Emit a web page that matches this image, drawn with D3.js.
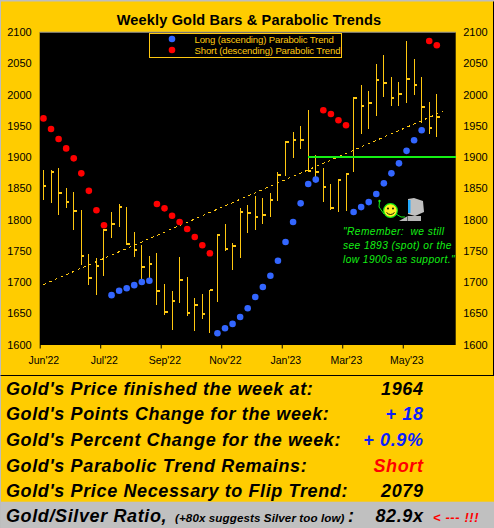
<!DOCTYPE html>
<html><head><meta charset="utf-8">
<script src="https://cdn.jsdelivr.net/npm/d3@7"></script>
<style>html,body{margin:0;padding:0;background:#ffcc00;overflow:hidden}svg{display:block}text{font-family:"Liberation Sans",Arial,sans-serif;white-space:pre}</style>
</head><body><div id="c"></div>
<script>
const highs=[1879,1879,1882,1850,1844,1815,1745,1738,1785,1812,1825,1820,1780,1759,1742,1746,1697,1686,1740,1708,1674,1681,1687,1777,1793,1762,1818,1823,1838,1834,1842,1876,1926,1940,1950,1975,1903,1882,1857,1865,1874,1996,2015,2006,2049,2063,2028,2020,2086,2057,2028,1988,2001];
const lows=[1831,1827,1808,1819,1783,1727,1695,1679,1710,1770,1788,1759,1740,1700,1702,1663,1647,1623,1666,1646,1622,1641,1618,1668,1750,1719,1738,1778,1783,1793,1804,1830,1870,1898,1913,1876,1863,1828,1815,1812,1814,1876,1937,1945,1966,1996,1982,1982,1986,1999,1954,1937,1932];
const closes=[1854,1876,1843,1828,1814,1742,1707,1726,1783,1793,1820,1761,1751,1724,1729,1686,1652,1670,1704,1651,1664,1649,1687,1776,1753,1757,1812,1810,1804,1808,1831,1871,1925,1927,1927,1878,1876,1852,1818,1864,1873,1995,1982,1986,2023,2019,1994,2001,2025,2015,1980,1946,1964];
const longIdx=[9,10,11,12,13,14,23,24,25,26,27,28,29,30,31,32,33,34,35,36,41,42,43,44,45,46,47,48,49,50];
const longVals=[1679,1686,1690,1695,1700,1702,1618,1626,1633,1644,1658,1676,1692,1710,1734,1764,1796,1826,1857,1864,1812,1820,1828,1841,1858,1874,1890,1910,1927,1943];
const shortIdx=[0,1,2,3,4,5,6,7,8,15,16,17,18,19,20,21,22,37,38,39,40,51,52];
const shortVals=[1962,1945,1929,1914,1898,1874,1846,1815,1791,1825,1818,1806,1796,1785,1772,1759,1746,1975,1969,1959,1951,2086,2079];
const trendIdx=[0,52.8];
const trendVals=[1696,1973];
const supportIdx=[35,54.5];
const supportVals=[1900,1900];
const yTicks=[1600,1650,1700,1750,1800,1850,1900,1950,2000,2050,2100];
const xTickIdx=[0,8,16,24,32,40,48];
const xTickLabels=["Jun'22","Jul'22","Sep'22","Nov'22","Jan'23","Mar'23","May'23"];
const legendLabels=["Long (ascending) Parabolic Trend","Short (descending) Parabolic Trend"];
const noteLines=['"Remember:  we still','see 1893 (spot) or the','low 1900s as support."'];
const tableLabels=["Gold's Price finished the week at:","Gold's Points Change for the week:","Gold's Percent Change for the week:","Gold's Parabolic Trend Remains:","Gold's Price Necessary to Flip Trend:"];
const tableValues=["1964","+ 18","+ 0.9%","Short","2079"];
const tableColors=["#000","#0a1eff","#0a1eff","#ff0000","#000"];

const gold="#ffcc00", barCol="#ffc810", blue="#3366ff", red="#ff0000", green="#14f014";
const svg=d3.select("#c").append("svg").attr("width",494).attr("height",528);
svg.append("rect").attr("width",494).attr("height",528).attr("fill",gold);
svg.append("rect").attr("x",0).attr("y",0).attr("width",494).attr("height",1.5).attr("fill","#bdbdbd");
svg.append("rect").attr("x",0).attr("y",0).attr("width",1).attr("height",528).attr("fill","#bdbdbd");
svg.append("text").attr("x",249).attr("y",25).attr("text-anchor","middle").attr("font-size",14.5).attr("font-weight","bold").attr("letter-spacing",0.18).attr("fill","#000").text("Weekly Gold Bars & Parabolic Trends");

const pL=39.7,pR=455.7,pT=32.2,pB=345;
const x=d3.scaleLinear().domain([0,55]).range([pL,pR]);
const y=d3.scaleLinear().domain([1600,2100]).range([pB-0.5,pT]);
const cx=i=>x(i+0.5);
svg.append("rect").attr("x",pL).attr("y",pT).attr("width",pR-pL).attr("height",pB-pT).attr("fill","#000");
svg.append("line").attr("x1",pL).attr("x2",pR).attr("y1",pT).attr("y2",pT).attr("stroke","#9a9a9a").attr("stroke-width",1);

// axes
const axL=svg.append("g").attr("transform",`translate(${pL-8},0)`).call(d3.axisLeft(y).tickValues(yTicks).tickSize(0).tickPadding(0).tickFormat(d3.format("d")));
const axR=svg.append("g").attr("transform",`translate(${pR+7.5},0)`).call(d3.axisRight(y).tickValues(yTicks).tickSize(0).tickPadding(0).tickFormat(d3.format("d")));
[axL,axR].forEach(a=>{a.select(".domain").remove();a.selectAll("text").attr("font-size",11).attr("fill","#000").attr("font-family",'"Liberation Sans",Arial,sans-serif');});
const axB=svg.append("g").attr("transform",`translate(0,${pB})`).call(d3.axisBottom(x).tickValues(xTickIdx).tickSize(3.5).tickPadding(8).tickFormat((d,i)=>xTickLabels[i]));
axB.select(".domain").remove();
axB.selectAll("line").attr("stroke","#000");
axB.selectAll("text").attr("font-size",10.5).attr("fill","#000").attr("dx",3.6).attr("font-family",'"Liberation Sans",Arial,sans-serif');

// trend
svg.append("path").datum(trendIdx.map((d,i)=>[d,trendVals[i]])).attr("fill","none").attr("stroke",barCol).attr("stroke-width",1).attr("stroke-dasharray","2.6,3.6").attr("shape-rendering","crispEdges")
  .attr("d",d3.line().x(d=>cx(d[0])).y(d=>y(d[1])));

// bars
const bars=svg.append("g").attr("shape-rendering","crispEdges").selectAll("g").data(closes).join("g");
bars.append("line").attr("x1",(d,i)=>cx(i)).attr("x2",(d,i)=>cx(i)).attr("y1",(d,i)=>y(highs[i])).attr("y2",(d,i)=>y(lows[i])).attr("stroke",barCol).attr("stroke-width",1);
bars.append("line").attr("x1",(d,i)=>cx(i)).attr("x2",(d,i)=>cx(i)+3).attr("y1",d=>y(d)).attr("y2",d=>y(d)).attr("stroke",barCol).attr("stroke-width",2);

// support line
svg.append("path").datum(supportIdx.map((d,i)=>[d,supportVals[i]])).attr("fill","none").attr("stroke",green).attr("stroke-width",2).attr("shape-rendering","crispEdges")
  .attr("d",d3.line().x(d=>cx(d[0])).y(d=>y(d[1])));

// parabolic dots
const diamond=d3.symbol().type(d3.symbolCircle).size(34);
svg.append("g").selectAll("path").data(longVals).join("path").attr("d",diamond).attr("fill",blue).attr("transform",(d,i)=>`translate(${cx(longIdx[i])},${y(d)})`);
svg.append("g").selectAll("path").data(shortVals).join("path").attr("d",diamond).attr("fill",red).attr("transform",(d,i)=>`translate(${cx(shortIdx[i])},${y(d)})`);

// legend
svg.append("rect").attr("x",149.5).attr("y",33.5).attr("width",192).attr("height",24).attr("fill","#000").attr("stroke",barCol).attr("stroke-width",1);
legendLabels.forEach((t,i)=>{
  const ly=39+i*11;
  svg.append("path").attr("d",diamond).attr("fill",i?red:blue).attr("transform",`translate(172,${ly})`);
  svg.append("text").attr("x",194.5).attr("y",ly+3.6).attr("font-size",9.6).attr("letter-spacing",-0.15).attr("fill",barCol).text(t);
});

// note
noteLines.forEach((t,i)=>{
  svg.append("text").attr("x",343).attr("y",235+i*14).attr("font-size",10.2).attr("font-style","italic").attr("letter-spacing",0.42).attr("fill",green).text(t);
});

// smiley and computer
const art=svg.append("g");
art.append("path").attr("d","M379.5 201 L379 207 L384 214 M396 214 L401 217 L405 217").attr("fill","none").attr("stroke",green).attr("stroke-width",1);
art.append("circle").attr("cx",379.5).attr("cy",201).attr("r",1.2).attr("fill",green);
art.append("circle").attr("cx",390.5).attr("cy",210.5).attr("r",6.8).attr("fill","#ffee22").attr("stroke",green).attr("stroke-width",1.2);
art.append("circle").attr("cx",388).attr("cy",208.5).attr("r",0.9).attr("fill","#000");
art.append("circle").attr("cx",393).attr("cy",208.5).attr("r",0.9).attr("fill","#000");
art.append("path").attr("d","M386.5 212.5 Q390.5 216.5 394.5 212.5").attr("fill","none").attr("stroke","#000").attr("stroke-width",0.9);
art.append("path").attr("d","M399 221 L407 216.5 L407 221 Z").attr("fill","#bbb");
art.append("path").attr("d","M408 199 L414 198 L423 201 L424 212 L415 216 L408 214 Z").attr("fill","#c0c0c0");
art.append("rect").attr("x",408).attr("y",200).attr("width",2.5).attr("height",13).attr("fill","#22aaff");
art.append("rect").attr("x",407.5).attr("y",216).attr("width",13.5).attr("height",5).attr("fill","#b5b5b5");

// table
svg.append("rect").attr("x",0.5).attr("y",375).attr("width",493).attr("height",1).attr("fill","#000");
svg.append("rect").attr("x",493).attr("y",1.5).attr("width",1).attr("height",374.5).attr("fill","#000");
svg.append("rect").attr("x",1).attr("y",501.7).attr("width",493).attr("height",27).attr("fill","#c0c0c0");
const rowY=[395,420,446,471.5,496.5];
tableLabels.forEach((t,i)=>{
  svg.append("text").attr("x",6).attr("y",rowY[i]).attr("font-size",18).attr("font-weight","bold").attr("font-style","italic").attr("letter-spacing",0.62).attr("fill","#000").text(t);
  svg.append("text").attr("x",423.5).attr("y",rowY[i]).attr("text-anchor","end").attr("font-size",18).attr("font-weight","bold").attr("font-style","italic").attr("letter-spacing",0.6).attr("fill",tableColors[i]).text(tableValues[i]);
});
const bi=(xx,t,fs,c,ls,anchor)=>svg.append("text").attr("x",xx).attr("y",522).attr("font-size",fs).attr("font-weight","bold").attr("font-style","italic").attr("fill",c||"#000").attr("letter-spacing",ls||0).attr("text-anchor",anchor||"start").text(t);
bi(6,"Gold/Silver Ratio,",18,"#000",0.62);
bi(175,"(+80x suggests Silver too low)",11.6,"#000",0.1);
bi(348,":",18);
bi(423.5,"82.9x",18,"#000",0.6,"end");
bi(433,"< --- !!!",13,"#ff0000",0.6);
</script></body></html>
